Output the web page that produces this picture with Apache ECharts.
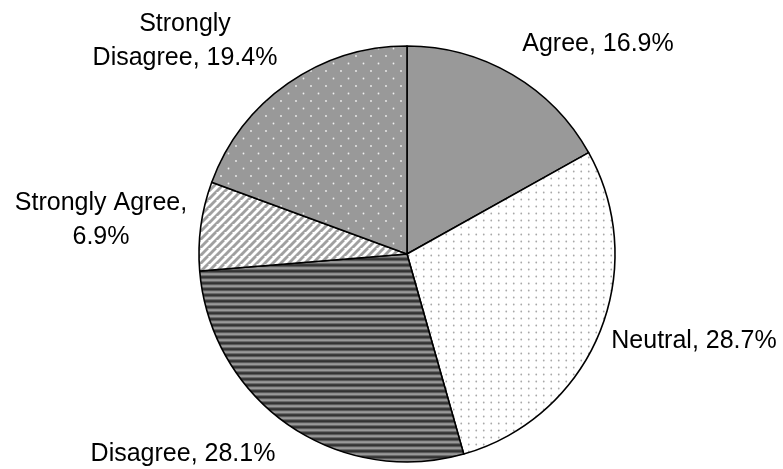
<!DOCTYPE html>
<html>
<head>
<meta charset="utf-8">
<script src="https://cdn.jsdelivr.net/npm/echarts@6/dist/echarts.min.js"></script>
<style>
html,body{margin:0;padding:0;background:#fff;}
#c{width:783px;height:469px;}
</style>
</head>
<body>
<div id="c"></div>
<script>
// ---- data ----
var categories = ['Agree', 'Neutral', 'Disagree', 'Strongly Agree', 'Strongly Disagree'];
var percents = [16.9, 28.7, 28.1, 6.9, 19.4];
// label text layout (line break style per category)
var labelBreak = ['none', 'none', 'none', 'afterComma', 'afterFirstWord'];
// label anchor positions (centres of label blocks)
var labelX = [598, 694, 183, 101, 185];
var labelY = [44, 341, 454, 220, 41];

function makeTile(w, h, draw) {
  var c = document.createElement('canvas');
  c.width = w; c.height = h;
  var ctx = c.getContext('2d');
  draw(ctx, w, h);
  return c;
}
// Agree: solid grey
var solidGrey = '#999999';
// Neutral: white with grey dots
var neutralTile = makeTile(15, 14, function (ctx, w, h) {
  ctx.fillStyle = '#ffffff'; ctx.fillRect(0, 0, w, h);
  ctx.fillStyle = '#a8a8a8';
  [[3.75, 3.5], [11.25, 3.5], [3.75, 10.5], [11.25, 10.5]].forEach(function (p) {
    ctx.beginPath(); ctx.arc(p[0], p[1], 0.9, 0, Math.PI * 2); ctx.fill();
  });
});
// Disagree: horizontal dark/grey stripes
var disagreeTile = makeTile(4, 6, function (ctx, w, h) {
  var rows = ['#3c3c3c', '#333333', '#5a5a5a', '#8e8e8e', '#999999', '#6a6a6a'];
  rows.forEach(function (col, i) { ctx.fillStyle = col; ctx.fillRect(0, i, w, 1); });
});
// Strongly Agree: diagonal grey/white stripes
var saTile = makeTile(8, 8, function (ctx, w, h) {
  ctx.fillStyle = '#ffffff'; ctx.fillRect(0, 0, w, h);
  ctx.strokeStyle = '#a0a0a0'; ctx.lineWidth = 2.9;
  for (var k = -1; k <= 2; k++) {
    ctx.beginPath();
    ctx.moveTo(k * 8 - 8, 16); ctx.lineTo(k * 8 + 8, 0);
    ctx.stroke();
  }
});
// Strongly Disagree: grey with staggered white dots
var sdTile = makeTile(15, 15, function (ctx, w, h) {
  ctx.fillStyle = '#999999'; ctx.fillRect(0, 0, w, h);
  ctx.fillStyle = '#f0f0f0';
  [[3.5, 3.5], [11, 11]].forEach(function (p) {
    ctx.beginPath(); ctx.arc(p[0], p[1], 0.9, 0, Math.PI * 2); ctx.fill();
  });
});
var fills = [
  solidGrey,
  { image: neutralTile, repeat: 'repeat' },
  { image: disagreeTile, repeat: 'repeat' },
  { image: saTile, repeat: 'repeat' },
  { image: sdTile, repeat: 'repeat' }
];

function labelText(i) {
  var n = categories[i], v = percents[i].toFixed(1) + '%';
  if (labelBreak[i] === 'afterComma') return n + ',\n' + v;
  if (labelBreak[i] === 'afterFirstWord') {
    var sp = n.indexOf(' ');
    return n.slice(0, sp) + '\n' + n.slice(sp + 1) + ', ' + v;
  }
  return n + ', ' + v;
}

var chart = echarts.init(document.getElementById('c'), null, { renderer: 'canvas' });
chart.setOption({
  animation: false,
  backgroundColor: '#ffffff',
  series: [{
    type: 'pie',
    center: [407, 254],
    radius: 208,
    startAngle: 90,
    clockwise: true,
    silent: true,
    avoidLabelOverlap: false,
    data: categories.map(function (c, i) {
      return { name: c, value: percents[i], itemStyle: { color: fills[i] } };
    }),
    itemStyle: { borderColor: '#000000', borderWidth: 1.6 },
    label: {
      show: true,
      position: 'outside',
      overflow: 'none',
      formatter: function (p) { return labelText(p.dataIndex); },
      fontFamily: '"Liberation Sans", Arial, sans-serif',
      fontSize: 25,
      lineHeight: 34,
      color: '#000000',
      align: 'center'
    },
    labelLine: { show: false },
    labelLayout: function (p) {
      return { x: labelX[p.dataIndex], y: labelY[p.dataIndex], align: 'center', verticalAlign: 'middle' };
    }
  }]
});
</script>
</body>
</html>
